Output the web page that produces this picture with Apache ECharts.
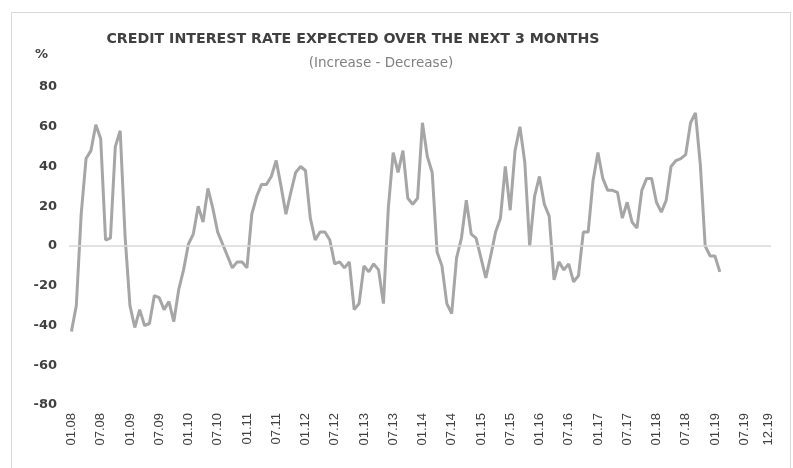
<!DOCTYPE html>
<html>
<head>
<meta charset="utf-8">
<script src="https://cdn.jsdelivr.net/npm/echarts@6/dist/echarts.min.js"></script>
<style>html,body{margin:0;padding:0;background:#fff;}#c{width:793px;height:468px;}</style>
</head>
<body>
<div id="c"></div>
<script>
// Monthly categories 01.08 .. 12.19
const years = ['08','09','10','11','12','13','14','15','16','17','18','19'];
const months = ['01','02','03','04','05','06','07','08','09','10','11','12'];
const categories = [];
years.forEach(y => months.forEach(m => categories.push(m + '.' + y)));

// Balance: Increase - Decrease (%), 01.08 .. 02.19
const creditRateBalance = [
  -43, -30, 16, 44, 48, 61, 54, 3, 4, 50, 58, 5,
  -30, -41, -32, -40, -39, -25, -26, -32, -28, -38, -22, -12,
  1, 6, 20, 12, 29, 19, 7, 1, -5, -11, -8, -8,
  -11, 16, 25, 31, 31, 35, 43, 30, 16, 27, 37, 40,
  38, 14, 3, 7, 7, 3, -9, -8, -11, -8, -32, -29,
  -10, -13, -9, -12, -29, 19, 47, 37, 48, 24, 21, 24,
  62, 45, 37, -3, -10, -29, -34, -6, 4, 23, 6, 4,
  -6, -16, -5, 7, 14, 40, 18, 48, 60, 42, 0, 25,
  35, 21, 15, -17, -8, -12, -9, -18, -15, 7, 7, 33,
  47, 34, 28, 28, 27, 14, 22, 12, 9, 28, 34, 34,
  22, 17, 23, 40, 43, 44, 46, 62, 67, 41, 0, -5,
  -5, -13
];

const yTicks = { min: -80, max: 80, interval: 20 };
const titleText = 'CREDIT INTEREST RATE EXPECTED OVER THE NEXT 3 MONTHS';
const subtitleText = '(Increase - Decrease)';

const FONT = '"DejaVu Sans", "Liberation Sans", Arial, sans-serif';
const chart = echarts.init(document.getElementById('c'), null, { renderer: 'canvas' });
chart.setOption({
  backgroundColor: '#ffffff',
  animation: false,
  graphic: [
    { type: 'rect', left: 9, top: 10, shape: { width: 779, height: 470 },
      style: { fill: 'none', stroke: '#d9d9d9', lineWidth: 1 }, silent: true },
    { type: 'text', left: 35, top: 48,
      style: { text: '%', font: 'bold 13px "DejaVu Sans", sans-serif', fill: '#404040' } }
  ],
  title: [
    { text: titleText, left: 348, top: 27, textAlign: 'center',
      textStyle: { fontFamily: FONT, fontWeight: 'bold', fontSize: 14.2, color: '#404040' } },
    { text: subtitleText, left: 376, top: 51, textAlign: 'center',
      textStyle: { fontFamily: FONT, fontWeight: 'normal', fontSize: 13.5, color: '#808080' } }
  ],
  grid: { left: 69, right: 22, top: 87, bottom: 63, containLabel: false },
  xAxis: {
    type: 'category',
    data: categories,
    boundaryGap: true,
    axisLine: { show: false },
    axisTick: { show: false },
    splitLine: { show: false },
    axisLabel: {
      rotate: 90,
      interval: (idx) => idx % 6 === 0 || idx === categories.length - 1,
      margin: 8,
      fontFamily: '"Liberation Sans", Arial, sans-serif',
      fontSize: 13,
      color: '#404040'
    }
  },
  yAxis: {
    type: 'value',
    min: yTicks.min, max: yTicks.max, interval: yTicks.interval,
    axisLine: { show: false },
    axisTick: { show: false },
    splitLine: { show: false },
    axisLabel: {
      margin: 12,
      fontFamily: FONT,
      fontWeight: 'bold',
      fontSize: 13,
      color: '#404040'
    }
  },
  series: [{
    type: 'line',
    data: creditRateBalance,
    symbol: 'none',
    smooth: false,
    lineStyle: { color: '#a6a6a6', width: 3 },
    markLine: {
      silent: true, symbol: 'none', label: { show: false },
      lineStyle: { color: '#d9d9d9', type: 'solid', width: 1.5 },
      data: [{ yAxis: 0 }]
    },
    z: 3
  }]
});
</script>
</body>
</html>
